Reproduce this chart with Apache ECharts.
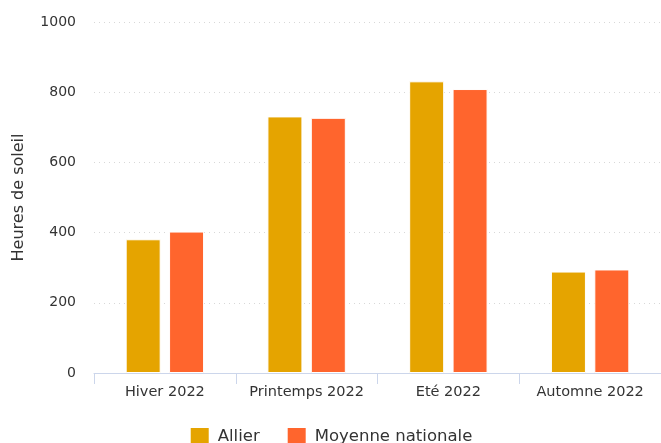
<!DOCTYPE html>
<html>
<head>
<meta charset="utf-8">
<script src="https://cdn.jsdelivr.net/npm/echarts@6/dist/echarts.min.js"></script>
<style>
  html, body { margin: 0; padding: 0; background: #fff; }
  #chart { width: 661px; height: 443px; }
</style>
</head>
<body>
<div id="chart"></div>
<script>
// Sunshine hours per season, Allier vs national average
const seasons = ['Hiver 2022', 'Printemps 2022', 'Eté 2022', 'Automne 2022'];
const allier = [381, 731, 831, 289];
const moyenneNationale = [403, 727, 809, 295];
const yTicks = { min: 0, max: 1000, interval: 200 };

const font = '"DejaVu Sans", "Noto Sans", sans-serif';
const chart = echarts.init(document.getElementById('chart'), null, { renderer: 'canvas' });

chart.setOption({
  animation: false,
  textStyle: { fontFamily: font },
  grid: { left: 94, right: -4, top: 22, bottom: 70, containLabel: false },
  legend: {
    data: ['Allier', 'Moyenne nationale'],
    top: 421,
    left: 'center',
    itemWidth: 20,
    itemHeight: 20,
    itemGap: 26,
    icon: 'rect',
    textStyle: { fontSize: 16.5, color: '#333', fontFamily: font, padding: [0, 0, 0, 3] }
  },
  xAxis: {
    type: 'category',
    data: seasons,
    axisLine: { lineStyle: { color: '#ccd6eb', width: 1 } },
    axisTick: { show: true, length: 11, interval: 0, alignWithLabel: false, lineStyle: { color: '#ccd6eb' } },
    axisLabel: { interval: 0, fontSize: 14.5, color: '#333', margin: 12, fontFamily: font }
  },
  yAxis: {
    type: 'value',
    min: yTicks.min,
    max: yTicks.max,
    interval: yTicks.interval,
    name: 'Heures de soleil',
    nameLocation: 'middle',
    nameGap: 67,
    nameRotate: 90,
    nameTextStyle: { fontSize: 16, color: '#333', fontFamily: font },
    axisLine: { show: false },
    axisTick: { show: false },
    axisLabel: { fontSize: 14, color: '#333', margin: 18, fontFamily: font, formatter: v => String(v) },
    splitLine: { lineStyle: { color: '#d8d8d8', type: [1, 4], width: 1 } }
  },
  series: [
    {
      name: 'Allier',
      type: 'bar',
      data: allier,
      barWidth: 35,
      barGap: '24%',
      itemStyle: { color: '#E5A400', borderColor: '#fff', borderWidth: 1 }
    },
    {
      name: 'Moyenne nationale',
      type: 'bar',
      data: moyenneNationale,
      barWidth: 35,
      barGap: '24%',
      itemStyle: { color: '#FF652D', borderColor: '#fff', borderWidth: 1 }
    }
  ]
});
</script>
</body>
</html>
